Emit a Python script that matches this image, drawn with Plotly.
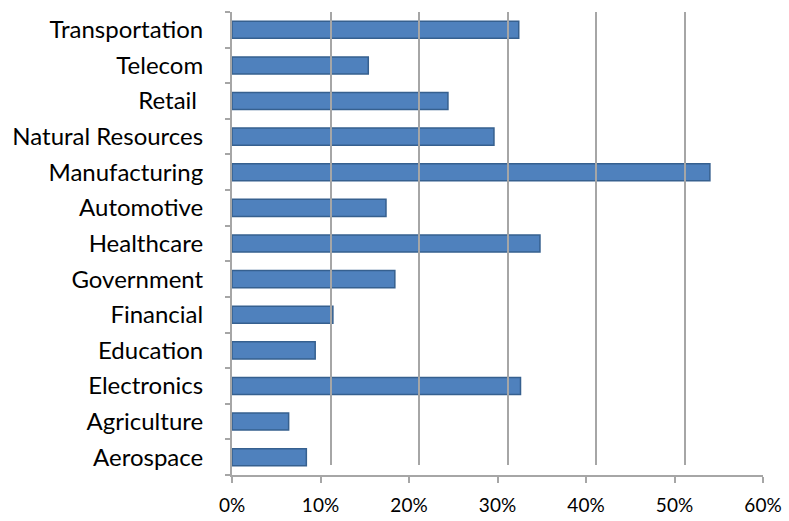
import plotly.graph_objects as go

categories = ["Aerospace", "Agriculture", "Electronics", "Education", "Financial",
              "Government", "Healthcare", "Automotive", "Manufacturing",
              "Natural Resources", "Retail ", "Telecom", "Transportation"]
values = [8.4, 6.4, 32.6, 9.4, 11.4, 18.4, 34.8, 17.4, 54.0, 29.6, 24.4, 15.4, 32.4]
tick_vals = [0, 10, 20, 30, 40, 50, 60]
tick_text = ["0%", "10%", "20%", "30%", "40%", "50%", "60%"]

W, H = 789, 521
left, right, top, bottom = 232, 16, 12, 46
pw = W - left - right
ph = H - top - bottom
off = 10 / pw

fig = go.Figure()
# back-wall gridlines (offset like the 3D view)
fig.add_trace(go.Scatter(x=[0, 60], y=[0, 1], xaxis="x2", yaxis="y2",
                         mode="markers", marker=dict(opacity=0), hoverinfo="skip",
                         showlegend=False))
fig.add_trace(go.Bar(
    y=categories, x=values, orientation="h",
    marker=dict(color="#4f81bd", line=dict(color="#36608f", width=1.5)),
    width=0.48,
    hoverinfo="skip",
))

fig.update_layout(
    width=W, height=H,
    margin=dict(l=left, r=right, t=top, b=bottom),
    paper_bgcolor="white", plot_bgcolor="rgba(0,0,0,0)",
    showlegend=False,
    font=dict(family="Lato", size=24, color="#000000"),
    xaxis=dict(range=[0, 60], tickvals=tick_vals, ticktext=tick_text,
               showgrid=False, zeroline=False, showline=True,
               linecolor="#a6a6a6", linewidth=2, ticks="outside",
               ticklen=6, tickcolor="#a6a6a6", tickwidth=2,
               tickfont=dict(size=19), domain=[0, 1 - off],
               automargin=False, ticklabelstandoff=6),
    yaxis=dict(showgrid=False, zeroline=False, showline=True,
               linecolor="#a6a6a6", linewidth=2, ticks="outside",
               tickson="boundaries", ticklen=5, tickcolor="#a6a6a6",
               tickwidth=2, tickfont=dict(size=24),
               range=[-0.5, 12.5], automargin=False, ticklabelstandoff=22),
    xaxis2=dict(range=[0, 60], tickvals=tick_vals, showticklabels=False,
                showgrid=True, gridcolor="#a6a6a6", gridwidth=2,
                zeroline=False, anchor="y2", domain=[off, 1],
                automargin=False),
    yaxis2=dict(range=[0, 1], showticklabels=False, showgrid=False,
                zeroline=False, anchor="x2", domain=[10 / ph, 1],
                automargin=False),
    bargap=0.5,
)
fig.write_html("out.html", config={"displayModeBar": False},
               post_script="document.body.style.margin='0px';document.body.style.overflow='hidden';")
